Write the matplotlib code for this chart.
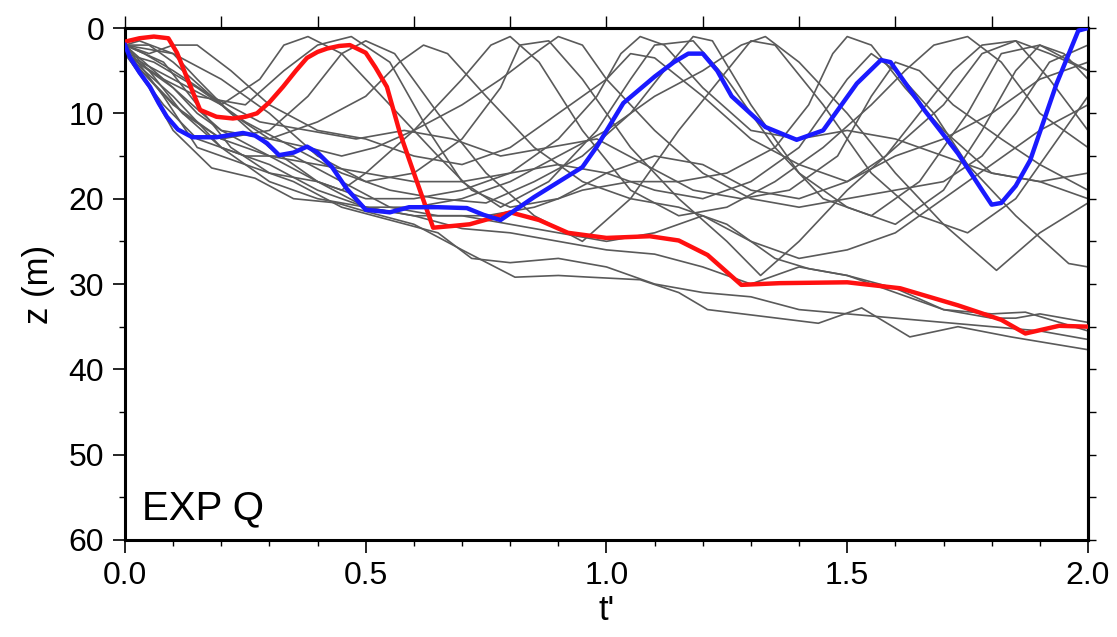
import matplotlib
matplotlib.use("Agg")
import matplotlib.pyplot as plt
from matplotlib.ticker import MultipleLocator

plt.rcParams['font.family'] = ['Liberation Sans', 'DejaVu Sans']

# Depth trajectories z(t') of individual particles, as (t', z) knots
red_t = [0.0, 0.03, 0.06, 0.09, 0.108, 0.13, 0.156, 0.19, 0.224, 0.25, 0.274, 0.30, 0.328, 0.355, 0.378,
         0.40, 0.42, 0.445, 0.467, 0.50, 0.52, 0.544, 0.571, 0.60, 0.64, 0.68, 0.716, 0.76, 0.80, 0.86,
         0.92, 1.0, 1.09, 1.15, 1.21, 1.28, 1.36, 1.5, 1.61, 1.73, 1.82, 1.87, 1.94, 2.0]
red_z = [1.6, 1.2, 1.0, 1.2, 2.9, 6.0, 9.6, 10.4, 10.6, 10.4, 10.0, 8.7, 6.9, 5.0, 3.5,
         2.8, 2.4, 2.1, 2.0, 2.9, 4.6, 6.9, 12.3, 17.0, 23.4, 23.2, 23.0, 22.3, 21.6, 22.5,
         24.0, 24.6, 24.4, 24.9, 26.6, 30.1, 29.9, 29.8, 30.5, 32.5, 34.2, 35.8, 34.9, 35.0]

blue_t = [0.0, 0.01, 0.03, 0.052, 0.07, 0.087, 0.11, 0.14, 0.19, 0.245, 0.27, 0.295, 0.32, 0.35, 0.378,
          0.40, 0.43, 0.46, 0.50, 0.55, 0.59, 0.65, 0.71, 0.745, 0.78, 0.85, 0.95, 0.98, 1.035, 1.10,
          1.14, 1.17, 1.20, 1.23, 1.26, 1.33, 1.395, 1.45, 1.52, 1.57, 1.59, 1.66, 1.73, 1.78, 1.80,
          1.82, 1.85, 1.88, 1.935, 1.98, 2.0]
blue_z = [2.0, 3.4, 5.2, 6.9, 8.8, 10.4, 11.9, 12.8, 12.8, 12.3, 12.6, 13.5, 14.9, 14.6, 13.9,
          14.6, 16.3, 18.8, 21.3, 21.6, 21.0, 21.0, 21.1, 21.9, 22.5, 19.8, 16.3, 13.9, 8.8, 5.7,
          4.0, 3.0, 3.0, 5.0, 8.0, 11.6, 13.1, 12.0, 6.5, 3.75, 4.0, 9.6, 14.7, 19.0, 20.7,
          20.5, 18.5, 15.5, 6.5, 0.3, 0.0]

grey_tracks = [
    ([0, 0.05, 0.1, 0.18, 0.27, 0.35, 0.44, 0.5, 0.6, 0.7, 0.81, 0.9, 0.965, 1.07, 1.15, 1.21, 1.34,
      1.44, 1.53, 1.63, 1.73, 1.84, 2.0],
     [3, 7, 12, 16.4, 17.6, 20, 20.5, 21.5, 23, 26, 29.2, 29, 29.2, 29.5, 31, 33, 33.9,
      34.6, 32.8, 36.2, 35, 36.2, 37.7]),
    ([0, 0.08, 0.15, 0.25, 0.35, 0.45, 0.55, 0.65, 0.72, 0.8, 0.9, 1.0, 1.1, 1.2, 1.3, 1.4, 1.5,
      1.6, 1.7, 1.8, 1.9, 2.0],
     [2, 8, 14, 16, 18, 21, 22.5, 24, 27, 27.5, 27, 28, 30, 31, 31.5, 33, 33.5, 34, 34.5, 35, 35.5, 36.5]),
    ([0, 0.1, 0.2, 0.3, 0.4, 0.5, 0.6, 0.7, 0.8, 0.9, 1.0, 1.1, 1.2, 1.3, 1.4, 1.5, 1.6, 1.7, 1.8,
      1.85, 1.9, 2.0],
     [3, 9, 13, 15, 18, 21, 22, 23.5, 24, 25, 26, 26.5, 28, 30, 28, 29, 31, 33, 34, 34, 33.5, 34.5]),
    ([0, 0.05, 0.12, 0.2, 0.3, 0.38, 0.45, 0.5, 0.56, 0.65, 0.75, 0.85, 0.95, 1.05, 1.15, 1.25, 1.3,
      1.35, 1.45, 1.55, 1.65, 1.75, 1.85, 1.95, 2.0],
     [2, 5, 10, 13, 12, 8, 3, 1.5, 3, 10, 17, 22, 25, 20, 12, 5, 1.5, 2, 9, 17, 22, 24, 20, 12, 8]),
    ([0, 0.08, 0.15, 0.25, 0.33, 0.4, 0.47, 0.55, 0.63, 0.7, 0.78, 0.88, 0.98, 1.05, 1.1, 1.18, 1.25,
      1.35, 1.45, 1.55, 1.65, 1.75, 1.82, 1.9, 2.0],
     [3, 6, 8, 9, 5, 2, 1, 4, 12, 18, 21, 18, 12, 6, 2, 1.5, 6, 14, 20, 22, 18, 10, 3, 2, 5]),
    ([0, 0.1, 0.2, 0.3, 0.4, 0.5, 0.6, 0.7, 0.78, 0.82, 0.88, 0.95, 1.05, 1.15, 1.25, 1.32, 1.4, 1.5,
      1.6, 1.7, 1.78, 1.85, 1.92, 2.0],
     [2, 3, 6, 10, 15, 18, 17, 13, 7, 2, 1.5, 6, 14, 20, 25, 29, 25, 19, 14, 9, 3, 1.5, 6, 12]),
    ([0, 0.06, 0.15, 0.25, 0.35, 0.45, 0.55, 0.65, 0.75, 0.85, 0.95, 1.05, 1.12, 1.18, 1.22, 1.3, 1.4,
      1.5, 1.6, 1.7, 1.78, 1.85, 1.9, 1.95, 2.0],
     [3, 4, 7, 11, 14, 17, 19, 20, 20.5, 18, 15, 10, 5, 1, 1.5, 9, 17, 21, 23, 19, 12, 5, 2, 3, 6]),
    ([0, 0.04, 0.1, 0.18, 0.28, 0.38, 0.48, 0.58, 0.68, 0.78, 0.88, 0.98, 1.08, 1.18, 1.28, 1.38, 1.48,
      1.55, 1.6, 1.65, 1.72, 1.82, 1.9, 2.0],
     [2, 3, 5, 8, 11, 12, 13, 12, 13, 15, 14, 13, 16, 19, 20, 19, 15, 8, 4, 5, 9, 13, 16, 19]),
    ([0, 0.1, 0.2, 0.3, 0.4, 0.5, 0.6, 0.7, 0.8, 0.9, 1.0, 1.1, 1.2, 1.3, 1.4, 1.5, 1.6, 1.7, 1.8,
      1.9, 2.0],
     [3, 8, 14, 16, 19, 21, 22, 22, 23, 24, 25, 24, 22, 25, 27, 26, 24, 20, 16, 12, 9]),
    ([0, 0.05, 0.1, 0.2, 0.3, 0.4, 0.45, 0.5, 0.6, 0.7, 0.76, 0.8, 0.86, 0.95, 1.05, 1.15, 1.25, 1.35,
      1.45, 1.55, 1.62, 1.68, 1.75, 1.82, 1.9, 2.0],
     [2, 2, 4, 9, 14, 18, 19, 17, 12, 6, 2, 1, 4, 12, 19, 22, 21, 18, 14, 9, 5, 2, 1, 4, 10, 14]),
    ([0, 0.1, 0.2, 0.28, 0.33, 0.38, 0.45, 0.55, 0.65, 0.72, 0.8, 0.9, 1.0, 1.1, 1.2, 1.3, 1.4, 1.5,
      1.6, 1.7, 1.8, 1.9, 2.0],
     [3, 6, 9, 6, 2, 1, 3, 9, 15, 19, 21, 20, 17, 15, 16, 19, 20, 18, 15, 13, 10, 6, 4]),
    ([0, 0.08, 0.15, 0.22, 0.3, 0.4, 0.5, 0.6, 0.7, 0.8, 0.9, 0.98, 1.03, 1.07, 1.12, 1.2, 1.3, 1.4,
      1.5, 1.6, 1.7, 1.8, 1.9, 2.0],
     [2, 4, 9, 14, 17, 18, 20, 20, 19, 17, 13, 8, 3, 1, 2, 7, 12, 13, 12, 13, 15, 17, 18, 20]),
    ([0, 0.03, 0.1, 0.15, 0.22, 0.3, 0.38, 0.45, 0.52, 0.6, 0.7, 0.78, 0.85, 0.9, 0.95, 1.0, 1.1, 1.2,
      1.3, 1.4, 1.5, 1.6, 1.7, 1.78, 1.85, 1.92, 2.0],
     [2, 1.5, 3, 6, 10, 13, 14, 15, 14, 12, 9, 6, 3, 1, 2, 6, 12, 17, 20, 21, 20, 19, 18, 15, 10, 4, 2]),
    ([0, 0.12, 0.2, 0.3, 0.4, 0.5, 0.6, 0.7, 0.8, 0.9, 1.0, 1.1, 1.2, 1.28, 1.33, 1.4, 1.5, 1.6, 1.7,
      1.81, 1.9, 2.0],
     [3, 10, 14, 18, 20, 21, 21, 20, 18, 15, 12, 8, 5, 2, 1, 4, 10, 17, 23, 28.4, 24, 20.5]),
    ([0, 0.1, 0.2, 0.3, 0.4, 0.5, 0.6, 0.7, 0.8, 0.9, 1.0, 1.1, 1.2, 1.3, 1.4, 1.45, 1.5, 1.55, 1.6,
      1.68, 1.75, 1.85, 1.96, 2.0],
     [2, 7, 12, 15, 16, 17, 18, 18, 17, 16, 17, 19, 20, 18, 14, 10, 6, 3, 5, 10, 16, 22, 27.6, 28]),
    ([0, 0.05, 0.1, 0.15, 0.2, 0.3, 0.4, 0.5, 0.57, 0.62, 0.67, 0.75, 0.85, 0.95, 1.05, 1.15, 1.25,
      1.35, 1.42, 1.5, 1.6, 1.7, 1.8, 1.87, 2.0],
     [3, 5, 7, 10, 12, 13, 11, 8, 4, 2, 3, 8, 14, 18, 20, 21, 23, 27, 28.2, 29, 30.5, 33, 33.5, 33.3, 35.5]),
    ([0, 0.05, 0.1, 0.15, 0.22, 0.3, 0.4, 0.5, 0.6, 0.7, 0.8, 0.9, 1.0, 1.05, 1.1, 1.2, 1.3, 1.4, 1.5,
      1.58, 1.65, 1.72, 1.78, 1.85, 1.92, 2.0],
     [2, 3, 2, 2, 5, 9, 12, 13, 15, 16, 14, 10, 6, 3, 3.5, 8, 13, 16, 18, 15, 10, 5, 2, 1.5, 3, 5]),
    ([0, 0.08, 0.15, 0.25, 0.35, 0.45, 0.55, 0.65, 0.75, 0.85, 0.95, 1.05, 1.15, 1.25, 1.35, 1.42,
      1.47, 1.5, 1.55, 1.62, 1.7, 1.8, 1.9, 2.0],
     [3, 9, 13, 15, 15, 18, 21, 22, 22, 21, 19, 18, 18, 17, 14, 9, 3, 1, 2, 7, 12, 17, 18, 17]),
]

fig = plt.figure(figsize=(11.17, 6.37), dpi=100)
ax = fig.add_axes([0.1119, 0.1523, 0.8621, 0.8037])

for gt, gz in grey_tracks:
    ax.plot(gt, gz, color='#5a5a5a', lw=1.2, solid_joinstyle='round')
ax.plot(red_t, red_z, color='#ff1010', lw=3.2, solid_joinstyle='round', zorder=5)
ax.plot(blue_t, blue_z, color='#1a1aff', lw=3.2, solid_joinstyle='round', zorder=6)

ax.set_xlim(0, 2)
ax.set_ylim(60, 0)

ax.xaxis.set_major_locator(MultipleLocator(0.5))
ax.xaxis.set_minor_locator(MultipleLocator(0.1))
ax.yaxis.set_major_locator(MultipleLocator(10))
ax.yaxis.set_minor_locator(MultipleLocator(5))
ax.xaxis.set_major_formatter(plt.FuncFormatter(lambda v, p: f"{v:.1f}"))

ax.tick_params(which='major', direction='out', length=9, width=1.2, labelsize=23, pad=6)
ax.tick_params(which='minor', direction='out', length=4, width=1.0)

for s in ax.spines.values():
    s.set_linewidth(2.2)

top = ax.secondary_xaxis('top')
top.xaxis.set_major_locator(MultipleLocator(0.2))
top.tick_params(direction='out', length=9, width=1.0, labeltop=False)
top.spines['top'].set_linewidth(2.2)

right = ax.secondary_yaxis('right')
right.yaxis.set_major_locator(MultipleLocator(5))
right.tick_params(direction='out', length=6, width=1.0, labelright=False)
right.spines['right'].set_linewidth(2.2)

ax.set_xlabel("t'", fontsize=25, labelpad=2)
ax.set_ylabel("z (m)", fontsize=25, labelpad=10)

ax.text(0.018, 0.025, "EXP Q", transform=ax.transAxes, fontsize=29,
        ha='left', va='bottom')

fig.savefig("out.png", dpi=100)
